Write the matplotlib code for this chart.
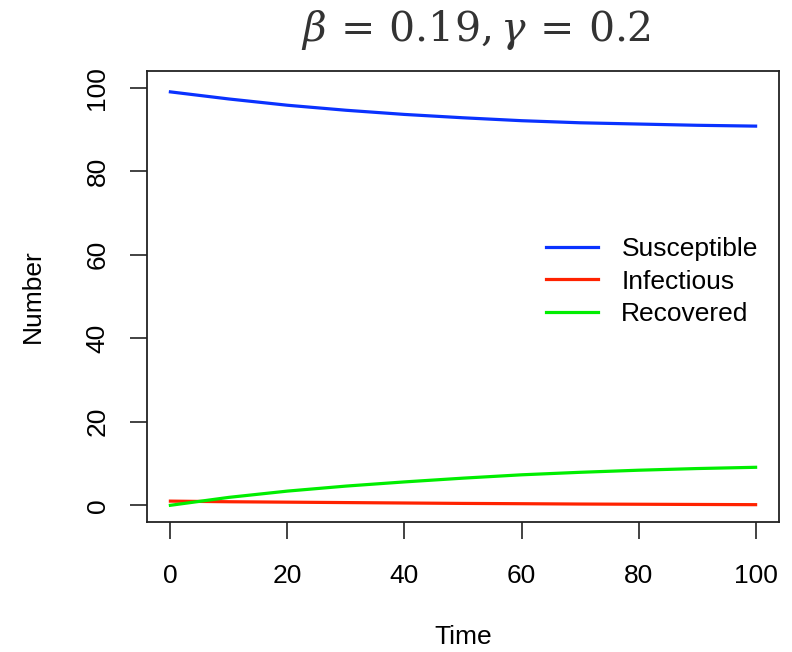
import matplotlib
matplotlib.use("Agg")
import matplotlib.pyplot as plt

# values, every 10 time units
time = [0, 10, 20, 30, 40, 50, 60, 70, 80, 90, 100]
susceptible = [99.0, 97.3, 95.8, 94.6, 93.6, 92.8, 92.1, 91.6, 91.3, 91.0, 90.8]
infectious = [1.0, 0.85, 0.75, 0.65, 0.55, 0.45, 0.38, 0.30, 0.25, 0.20, 0.15]
recovered = [0.0, 1.9, 3.4, 4.6, 5.6, 6.5, 7.3, 7.9, 8.4, 8.8, 9.1]

x_ticks = [0, 20, 40, 60, 80, 100]
y_ticks = [0, 20, 40, 60, 80, 100]

plt.rcParams['font.family'] = ['Liberation Sans', 'DejaVu Sans']
plt.rcParams['mathtext.fontset'] = 'dejavuserif'

fig = plt.figure(figsize=(7.92, 6.52), dpi=100)
ax = fig.add_axes([147 / 792, 1 - 522 / 652, 632 / 792, 451 / 652])

ax.plot(time, susceptible, color='#0a32ff', lw=2.3, label='Susceptible')
ax.plot(time, infectious, color='#ff2200', lw=2.3, label='Infectious')
ax.plot(time, recovered, color='#00ee00', lw=2.3, label='Recovered')

# R-style 4% padding around 0..100
ax.set_xlim(-4, 104)
ax.set_ylim(-4, 104)
ax.set_xticks(x_ticks)
ax.set_yticks(y_ticks)
ax.tick_params(axis='both', labelsize=19, length=12, width=1.2, color='#222222')
ax.tick_params(axis='x', pad=18)
ax.tick_params(axis='y', pad=15)
for lab in ax.get_yticklabels():
    lab.set_rotation(90)
    lab.set_va('center')

for s in ax.spines.values():
    s.set_linewidth(1.3)
    s.set_color('#222222')

ax.set_xlabel('Time', fontsize=19, labelpad=27)
ax.set_ylabel('Number', fontsize=19, labelpad=29)

ax.legend(frameon=False, loc='upper left', bbox_to_anchor=(0.594, 0.685),
          fontsize=19, handlelength=1.95, handletextpad=0.9, labelspacing=0.33)

fig.text(476 / 792, 1 - 30 / 652, r'$\beta\,=\,0.19,\gamma\,=\,0.2$', fontsize=29.5,
         ha='center', va='center', color='#333333')

fig.savefig('out.png', dpi=100)
